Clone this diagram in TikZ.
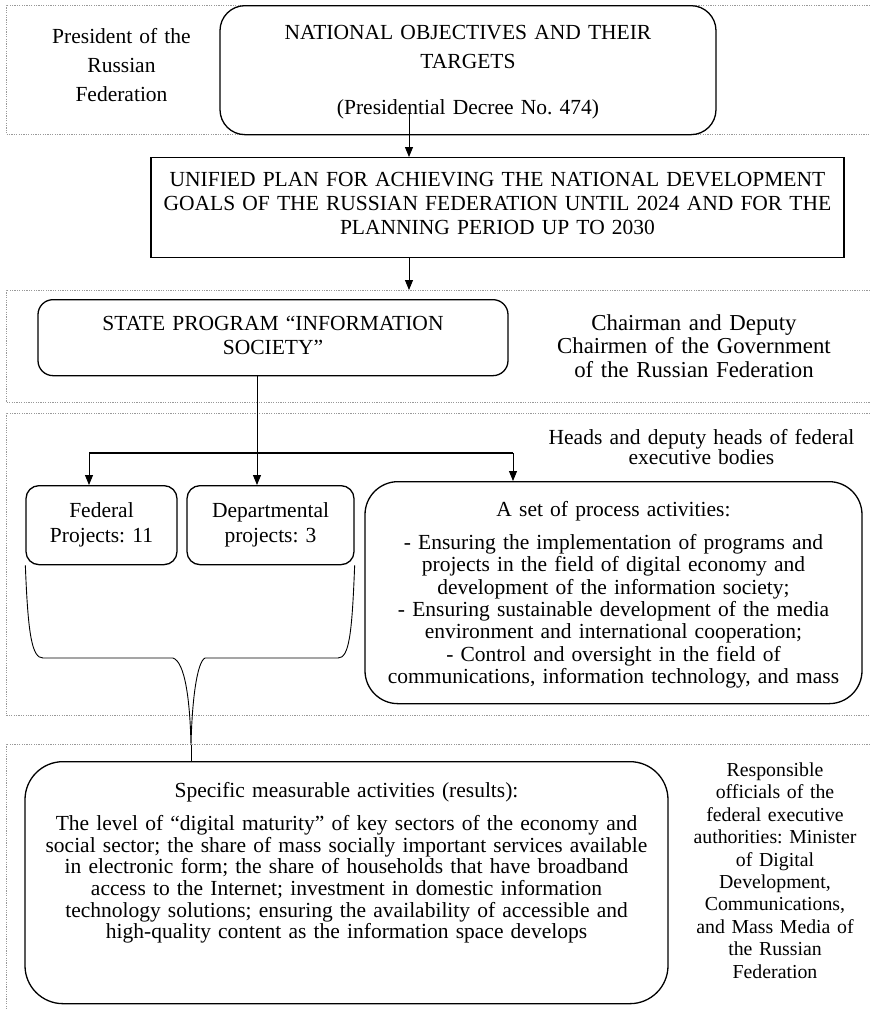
\documentclass[tikz,border=0pt]{standalone}
\usepackage{fontspec}
\setmainfont{Liberation Serif}
\usetikzlibrary{arrows.meta}
\frenchspacing

\begin{document}
\begin{tikzpicture}[x=1pt, y=-1pt, line width=0.9pt, >={Triangle[length=10pt,width=8pt]}]
        \tikzstyle{panel}=[draw=black!40, line width=0.8pt, dash pattern=on 1.2pt off 1.2pt]
        \tikzstyle{box}=[rectangle, draw=black, line width=1.3pt, inner sep=0pt, anchor=north, align=center, font=\fontsize{21.5}{22.3}\selectfont]
        \tikzstyle{rbox}=[box, rounded corners=15pt]
        \tikzstyle{note}=[inner sep=0pt, anchor=north, align=center, text height=15pt, font=\fontsize{21.5}{22.3}\selectfont]
        \tikzstyle{branch}=[line width=2pt]

        \useasboundingbox (0,0) rectangle (870,1010);

        \draw[panel] (870,5) -- (6,5) -- (6,134) -- (870,134);
        \draw[panel] (870,290) -- (6,290) -- (6,402) -- (870,402);
        \draw[panel] (870,413) -- (6,413) -- (6,715) -- (870,715);
        \draw[panel] (870,744) -- (6,744) -- (6,1010);

        \node[note, text width=190pt, font=\fontsize{21.5}{29}\selectfont] (president) at (121.5,28) {President of the\\Russian\\Federation};
        \node[rbox, rounded corners=25pt, text width=496pt, text height=34pt, text depth=95pt, font=\fontsize{21.5}{29}\selectfont] (goals) at (468,5) {NATIONAL OBJECTIVES AND THEIR\\TARGETS\\[17pt](Presidential Decree No. 474)};
        \node[box, text width=693pt, text height=29pt, text depth=71pt, font=\fontsize{21.5}{24}\selectfont] (plan) at (497.5,157) {UNIFIED PLAN FOR ACHIEVING THE NATIONAL DEVELOPMENT\\GOALS OF THE RUSSIAN FEDERATION UNTIL 2024 AND FOR THE\\PLANNING PERIOD UP TO 2030};
        \node[rbox, text width=470pt, text height=31pt, text depth=45pt, font=\fontsize{21.5}{23.5}\selectfont] (state) at (273,299) {STATE PROGRAM “INFORMATION\\SOCIETY”};
        \node[note, text width=300pt, font=\fontsize{22.8}{23.5}\selectfont] (chairmen) at (694,315) {Chairman and Deputy\\Chairmen of the Government\\of the Russian Federation};
        \node[note, text width=330pt, font=\fontsize{21.5}{20.5}\selectfont] (heads) at (701.5,429) {Heads and deputy heads of federal\\executive bodies};
        \node[rbox, rounded corners=13pt, text width=151pt, text height=32pt, text depth=47pt, font=\fontsize{21.5}{25}\selectfont] (fed) at (101.5,485) {Federal\\Projects: 11};
        \node[rbox, rounded corners=13pt, text width=167pt, text height=32pt, text depth=47pt, font=\fontsize{21.5}{25}\selectfont] (dept) at (270.5,485) {Departmental\\projects: 3};
        \node[rbox, rounded corners=33pt, text width=497pt, text height=35pt, text depth=187pt] (proc) at (613.5,481) {A set of process activities:\\[10.7pt]- Ensuring the implementation of programs and\\projects in the field of digital economy and\\development of the information society;\\- Ensuring sustainable development of the media\\environment and international cooperation;\\- Control and oversight in the field of\\communications, information technology, and mass};
        \node[rbox, rounded corners=38pt, text width=643pt, text height=36pt, text depth=206pt, font=\fontsize{21.5}{21.6}\selectfont] (spec) at (346.5,761) {Specific measurable activities (results):\\[11.4pt]The level of “digital maturity” of key sectors of the economy and\\social sector; the share of mass socially important services available\\in electronic form; the share of households that have broadband\\access to the Internet; investment in domestic information\\technology solutions; ensuring the availability of accessible and\\high-quality content as the information space develops};
        \node[note, text width=200pt, font=\fontsize{19.8}{22.4}\selectfont] (officials) at (775,761) {Responsible\\officials of the\\federal executive\\authorities: Minister\\of Digital\\Development,\\Communications,\\and Mass Media of\\the Russian\\Federation};

        \coordinate (a1) at (409,113);
        \coordinate (a2) at (409,290);
        \coordinate (fork) at (257,453);
        \coordinate (forkl) at (89,453);
        \coordinate (forkr) at (513,453);
        \coordinate (tip) at (191,745);

        \draw[->] (a1) -- (a1 |- plan.north);
        \draw[->] (a1 |- plan.south) -- (a2);
        \draw[->] (fork |- state.south) -- (fork |- dept.north);
        \draw[branch] (forkl) -- (forkr);
        \draw[->] (forkl) -- (forkl |- fed.north);
        \draw[->] (forkr) -- (forkr |- proc.north);
        \draw (fed.south west) .. controls (28,635) and (32,658) .. (43,658) -- (173,658) .. controls (185,662) and (190,700) .. (tip) .. controls (192,700) and (197,662) .. (205,658) -- (338,658) .. controls (349,658) and (352,635) .. (dept.south east);
        \draw (tip) -- (tip |- spec.north);
    \end{tikzpicture}
\end{document}
